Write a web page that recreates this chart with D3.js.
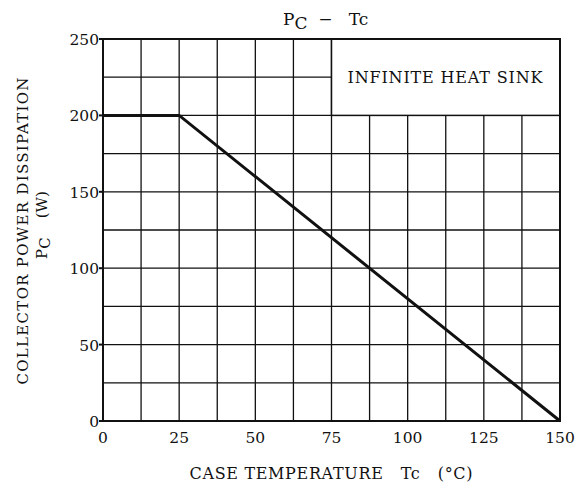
<!DOCTYPE html>
<html>
<head>
<meta charset="utf-8">
<script src="https://cdn.jsdelivr.net/npm/d3@7"></script>
<style>
  body { margin: 0; background: #fff; }
  text { font-family: "DejaVu Serif", "Liberation Serif", serif; fill: #111; }
</style>
</head>
<body>
<div id="chart"></div>
<script>
'use strict';
// derating curve Pc vs Tc
const tempC = [0, 25, 150];
const powerW = [200, 200, 0];
const xTicks = [0, 25, 50, 75, 100, 125, 150];
const yTicks = [0, 50, 100, 150, 200, 250];
const xGrid = d3.range(12.5, 150, 12.5);
const yGrid = d3.range(25, 250, 25);

const width = 585, height = 490;
const margin = { top: 39, right: 25, bottom: 69, left: 103 };

const svg = d3.select('#chart').append('svg')
    .attr('width', width)
    .attr('height', height);

const x = d3.scaleLinear().domain([0, 150]).range([margin.left, width - margin.right]);
const y = d3.scaleLinear().domain([0, 250]).range([height - margin.bottom, margin.top]);

const g = svg.append('g');

// grid
g.selectAll('.vgrid').data(xGrid).enter().append('line')
    .attr('x1', d => x(d)).attr('x2', d => x(d))
    .attr('y1', y(0)).attr('y2', y(250))
    .attr('stroke', '#111').attr('stroke-width', 1.3);

g.selectAll('.hgrid').data(yGrid).enter().append('line')
    .attr('x1', x(0)).attr('x2', x(150))
    .attr('y1', d => y(d)).attr('y2', d => y(d))
    .attr('stroke', '#111').attr('stroke-width', 1.3);

// legend box covers grid in the upper right corner
g.append('rect')
    .attr('x', x(75)).attr('y', y(250))
    .attr('width', x(150) - x(75)).attr('height', y(200) - y(250))
    .attr('fill', '#fff').attr('stroke', '#111').attr('stroke-width', 1.5);

g.append('text')
    .attr('x', x(75) + 16).attr('y', y(225) + 6)
    .attr('font-size', 16)
    .attr('textLength', 195)
    .text('INFINITE HEAT SINK');

// frame
g.append('rect')
    .attr('x', x(0)).attr('y', y(250))
    .attr('width', x(150) - x(0)).attr('height', y(0) - y(250))
    .attr('fill', 'none').attr('stroke', '#111').attr('stroke-width', 2);

// y ticks
g.selectAll('.ytick').data(yTicks).enter().append('line')
    .attr('x1', x(0) - 4).attr('x2', x(0))
    .attr('y1', d => y(d)).attr('y2', d => y(d))
    .attr('stroke', '#111').attr('stroke-width', 2);

g.selectAll('.ylab').data(yTicks).enter().append('text')
    .attr('x', x(0) - 4)
    .attr('y', d => y(d) + 6)
    .attr('text-anchor', 'end')
    .attr('font-size', 15.5)
    .text(d => d);

g.selectAll('.xlab').data(xTicks).enter().append('text')
    .attr('x', d => x(d))
    .attr('y', y(0) + 22)
    .attr('text-anchor', 'middle')
    .attr('font-size', 15.5)
    .text(d => d);

// curve
const line = d3.line().x(d => x(d[0])).y(d => y(d[1]));
g.append('path')
    .datum(tempC.map((t, i) => [t, powerW[i]]))
    .attr('d', line)
    .attr('fill', 'none')
    .attr('stroke', '#111')
    .attr('stroke-width', 3);

// title
const title = svg.append('text')
    .attr('x', 283).attr('y', 25)
    .attr('font-size', 17)
    .attr('xml:space', 'preserve');
title.append('tspan').text('P');
title.append('tspan').attr('dy', 4).text('C');
title.append('tspan').attr('dy', -4).text('  \u2212   Tc');

// axis titles
svg.append('text')
    .attr('x', 331).attr('y', 479)
    .attr('text-anchor', 'middle')
    .attr('font-size', 16)
    .attr('textLength', 283)
    .attr('xml:space', 'preserve')
    .text('CASE TEMPERATURE   Tc   (\u00B0C)');

svg.append('text')
    .attr('transform', 'translate(28,231) rotate(-90)')
    .attr('text-anchor', 'middle')
    .attr('font-size', 15)
    .attr('textLength', 307)
    .text('COLLECTOR POWER DISSIPATION');

const yl2 = svg.append('text')
    .attr('transform', 'translate(47,225) rotate(-90)')
    .attr('text-anchor', 'middle')
    .attr('font-size', 15)
    .attr('xml:space', 'preserve');
yl2.append('tspan').text('P');
yl2.append('tspan').attr('dy', 3).text('C');
yl2.append('tspan').attr('dy', -3).text('    (W)');
</script>
</body>
</html>
